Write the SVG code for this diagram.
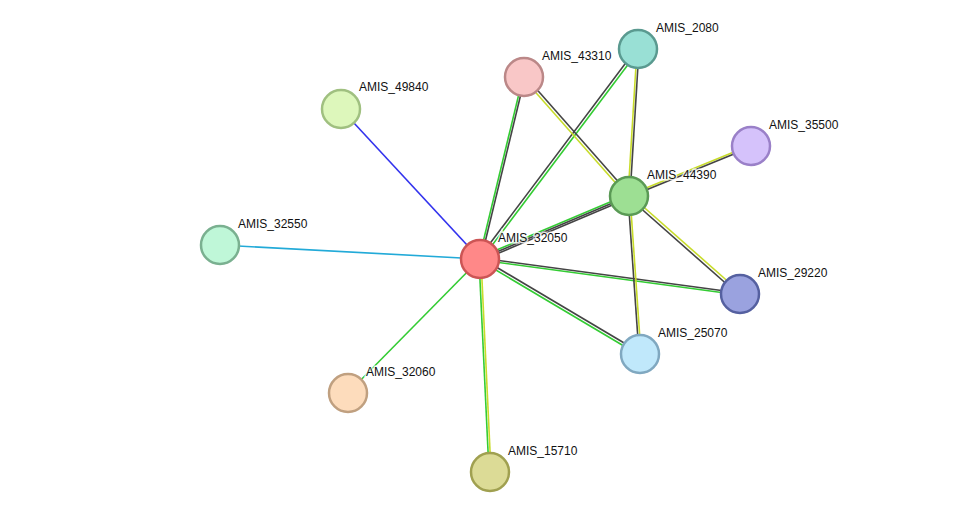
<svg xmlns="http://www.w3.org/2000/svg" width="975" height="518" viewBox="0 0 975 518">
<style>
.e line{stroke-width:1.6;fill:none}
.k{stroke:#444}
.g{stroke:#33cc33}
.y{stroke:#c8dc2a}
.n circle{stroke-width:2.5}
.n text{font-family:"Liberation Sans",Arial,sans-serif;font-size:12px;fill:#111;stroke:#fff;stroke-width:3;stroke-opacity:0.8;paint-order:stroke}
</style>
<rect width="975" height="518" fill="#fff"/>
<g id="connectors" class="e">
<line x1="480" y1="259" x2="341" y2="109" stroke="#3333ee"/>
<line x1="480" y1="259" x2="220" y2="245" stroke="#22aad8"/>
<line x1="480" y1="259" x2="348" y2="393" class="g"/>
<line x1="479" y1="259" x2="489" y2="472" class="g"/>
<line x1="481" y1="259" x2="491" y2="472" class="y"/>
<line x1="479" y1="259" x2="523" y2="77" class="g"/>
<line x1="481" y1="259" x2="525" y2="77" class="k"/>
<line x1="479" y1="258" x2="637" y2="48" class="k"/>
<line x1="481" y1="260" x2="639" y2="50" class="g"/>
<line x1="480" y1="257" x2="629" y2="194" class="g"/>
<line x1="480" y1="259" x2="629" y2="196" class="k"/>
<line x1="480" y1="261" x2="629" y2="198" class="k"/>
<line x1="480" y1="258" x2="740" y2="293" class="k"/>
<line x1="480" y1="260" x2="740" y2="295" class="g"/>
<line x1="481" y1="258" x2="641" y2="353" class="k"/>
<line x1="479" y1="260" x2="639" y2="355" class="g"/>
<line x1="523" y1="78" x2="628" y2="197" class="y"/>
<line x1="525" y1="76" x2="630" y2="195" class="k"/>
<line x1="637" y1="49" x2="628" y2="196" class="y"/>
<line x1="639" y1="49" x2="630" y2="196" class="k"/>
<line x1="629" y1="195" x2="751" y2="145" class="y"/>
<line x1="629" y1="197" x2="751" y2="147" class="k"/>
<line x1="630" y1="195" x2="741" y2="293" class="y"/>
<line x1="628" y1="197" x2="739" y2="295" class="k"/>
<line x1="628" y1="196" x2="639" y2="354" class="k"/>
<line x1="630" y1="196" x2="641" y2="354" class="y"/>
</g>
<g id="AMIS_32050" class="n"><circle cx="480" cy="259" r="19" fill="#f88" stroke="#c55"/><text x="498" y="242">AMIS_32050</text></g>
<g id="AMIS_43310" class="n"><circle cx="524" cy="77" r="19" fill="#f9c7c7" stroke="#b88"/><text x="542" y="60">AMIS_43310</text></g>
<g id="AMIS_2080" class="n"><circle cx="638" cy="49" r="19" fill="#99e0d5" stroke="#5a9a90"/><text x="656" y="32">AMIS_2080</text></g>
<g id="AMIS_49840" class="n"><circle cx="341" cy="109" r="19" fill="#ddf7bb" stroke="#a0c080"/><text x="359" y="91">AMIS_49840</text></g>
<g id="AMIS_35500" class="n"><circle cx="751" cy="146" r="19" fill="#d5c2fb" stroke="#9a80c8"/><text x="769" y="129">AMIS_35500</text></g>
<g id="AMIS_44390" class="n"><circle cx="629" cy="196" r="19" fill="#9ddf93" stroke="#5a9a55"/><text x="647" y="179">AMIS_44390</text></g>
<g id="AMIS_32550" class="n"><circle cx="220" cy="245" r="19" fill="#bff7d8" stroke="#7ab090"/><text x="238" y="228">AMIS_32550</text></g>
<g id="AMIS_29220" class="n"><circle cx="740" cy="294" r="19" fill="#9aa2df" stroke="#5560a0"/><text x="758" y="277">AMIS_29220</text></g>
<g id="AMIS_25070" class="n"><circle cx="640" cy="354" r="19" fill="#c0e8fb" stroke="#80a8c0"/><text x="658" y="337">AMIS_25070</text></g>
<g id="AMIS_32060" class="n"><circle cx="348" cy="393" r="19" fill="#fddcbc" stroke="#c0a080"/><text x="366" y="376">AMIS_32060</text></g>
<g id="AMIS_15710" class="n"><circle cx="490" cy="472" r="19" fill="#dcdb96" stroke="#a0a050"/><text x="508" y="455">AMIS_15710</text></g>
</svg>
